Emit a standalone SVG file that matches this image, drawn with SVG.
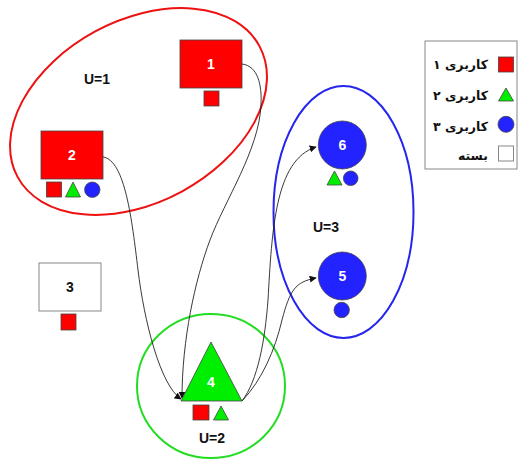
<svg xmlns="http://www.w3.org/2000/svg" width="518" height="459" viewBox="0 0 518 459">
<defs>
<style>
.red{fill:#ff0000;stroke:#444;stroke-width:0.8}
.grn{fill:#00ee00;stroke:#444;stroke-width:0.8}
.blu{fill:#2323ff;stroke:#444;stroke-width:0.8}
.wht{fill:#fff;stroke:#888;stroke-width:1}
.lbl{font-family:"Liberation Sans",Arial,sans-serif;font-weight:bold;font-size:14px;fill:#fff;text-anchor:middle}
.ulbl{font-family:"Liberation Sans",Arial,sans-serif;font-weight:bold;font-size:14px;fill:#111;text-anchor:middle}
.leg{font-family:"DejaVu Sans",sans-serif;font-weight:bold;font-size:12.5px;fill:#111}
.edge{fill:none;stroke:#222;stroke-width:0.9;marker-end:url(#arr)}
</style>
<marker id="arr" viewBox="0 0 10 10" refX="9" refY="5" markerWidth="7" markerHeight="7" markerUnits="userSpaceOnUse" orient="auto">
<path d="M0,0 L10,5 L0,10 Z" fill="#111"/>
</marker>
</defs>
<rect width="518" height="459" fill="#fff"/>

<g id="groups">
<ellipse cx="138.5" cy="111.5" rx="137.5" ry="91" transform="rotate(-28.4 138.5 111.5)" fill="none" stroke="#ee1111" stroke-width="2"/>
<ellipse cx="343.5" cy="212" rx="70" ry="126" fill="none" stroke="#2525ee" stroke-width="2"/>
<ellipse cx="211" cy="386" rx="74" ry="72" fill="none" stroke="#22dd22" stroke-width="2"/>
<text class="ulbl" x="97" y="84">U=1</text>
<text class="ulbl" x="326" y="232">U=3</text>
<text class="ulbl" x="212" y="443">U=2</text>
</g>

<g id="edges">
<path class="edge" d="M103,157 C125,160 132,220 138,270 C144,320 160,385 181,399"/>
<path class="edge" d="M242,64 C258,66 262,85 261,105 C259,150 225,200 210,240 C195,280 182,340 182,398"/>
<path class="edge" d="M242,401 C258,380 265,340 268,300 C272,230 275,160 316,147"/>
<path class="edge" d="M242,401 C262,380 275,350 282,320 C290,290 295,282 316,278"/>
</g>

<g id="node1">
<rect class="red" x="180" y="40" width="62" height="48"/>
<text class="lbl" x="211" y="69">1</text>
<rect class="red" x="204" y="91" width="15" height="15"/>
</g>

<g id="node2">
<rect class="red" x="41" y="131" width="62" height="48"/>
<text class="lbl" x="72" y="160">2</text>
<rect class="red" x="46.5" y="182" width="15" height="15"/>
<polygon class="grn" points="73,182 65.5,197 80.5,197"/>
<circle class="blu" cx="92.3" cy="189.7" r="7.7"/>
</g>

<g id="node3">
<rect class="wht" x="39" y="263" width="62" height="48"/>
<text class="ulbl" x="70" y="292">3</text>
<rect class="red" x="61" y="314" width="15" height="16"/>
</g>

<g id="node4">
<polygon class="grn" points="211,342 181,401 242,401"/>
<text class="lbl" x="211" y="387">4</text>
<rect class="red" x="193" y="405" width="16" height="15"/>
<polygon class="grn" points="221,406 213.5,420 228.5,420"/>
</g>

<g id="node5">
<circle class="blu" cx="342.3" cy="276" r="24"/>
<text class="lbl" x="342.3" y="281">5</text>
<circle class="blu" cx="341.7" cy="310" r="7.7"/>
</g>

<g id="node6">
<circle class="blu" cx="342.3" cy="145" r="24"/>
<text class="lbl" x="342.3" y="150">6</text>
<polygon class="grn" points="334.5,171 327,185 342,185"/>
<circle class="blu" cx="350.7" cy="178.3" r="7.3"/>
</g>

<g id="legend">
<rect x="425" y="41" width="92" height="128" fill="#fff" stroke="#888" stroke-width="1"/>
<rect class="red" x="498.5" y="57" width="15" height="15"/>
<polygon class="grn" points="506,88 498.5,101 513.5,101"/>
<circle class="blu" cx="506" cy="124.3" r="8"/>
<rect class="wht" x="498.5" y="146" width="15" height="15" stroke="#666"/>
<text class="leg" x="488" y="69" direction="rtl" text-anchor="start">کاربری ۱</text>
<text class="leg" x="488" y="100" direction="rtl" text-anchor="start">کاربری ۲</text>
<text class="leg" x="488" y="131" direction="rtl" text-anchor="start">کاربری ۳</text>
<text class="leg" x="488" y="160" direction="rtl" text-anchor="start">بسته</text>
</g>
</svg>
